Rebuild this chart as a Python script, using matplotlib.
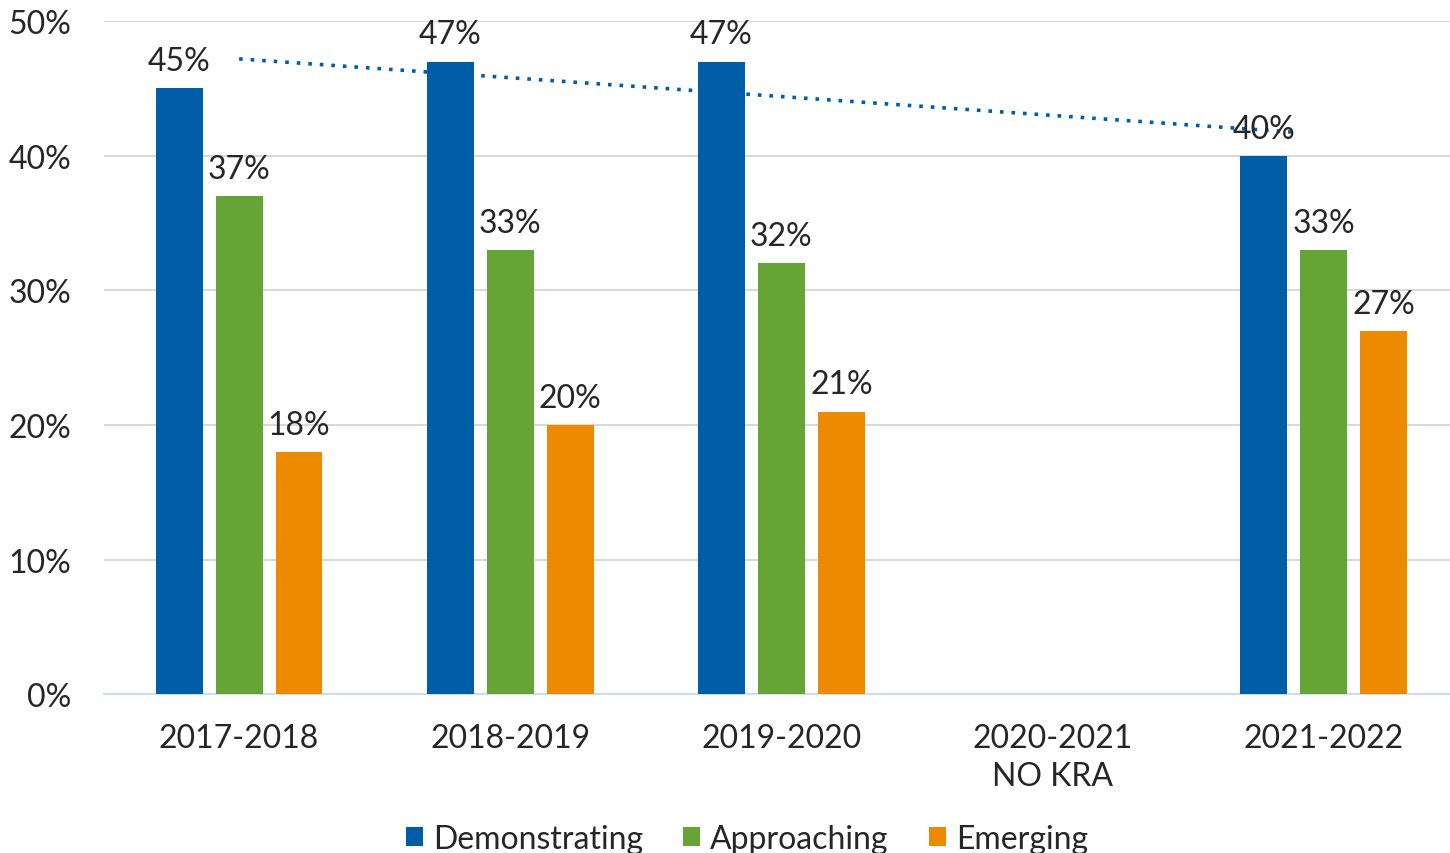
import numpy as np
import matplotlib
matplotlib.use("Agg")
import matplotlib.pyplot as plt
from matplotlib.patches import Patch

plt.rcParams['font.family'] = ['Lato', 'DejaVu Sans']

years = ["2017-2018", "2018-2019", "2019-2020", "2020-2021\nNO KRA", "2021-2022"]
demonstrating = [45, 47, 47, None, 40]
approaching = [37, 33, 32, None, 33]
emerging = [18, 20, 21, None, 27]

series = [("Demonstrating", demonstrating, "#005EA8"),
          ("Approaching", approaching, "#67A436"),
          ("Emerging", emerging, "#EE8A00")]

fig = plt.figure(figsize=(14.5, 8.54), dpi=100)
ax = fig.add_axes([0.0714, 0.186, 0.935, 0.788])

width = 0.173
step = 0.221
x = np.arange(len(years))
for i, (name, vals, color) in enumerate(series):
    for xi, v in zip(x, vals):
        if v is None:
            continue
        pos = xi + (i - 1) * step
        ax.bar(pos, v, width=width, color=color, zorder=3)
        ax.text(pos, v + 0.9, f"{v}%", ha="center", va="bottom",
                fontsize=23, color="#262626", zorder=5)

# linear trendline of Demonstrating (blank year skipped)
tx = np.array([i + 1 for i, v in enumerate(demonstrating) if v is not None])
ty = np.array([v for v in demonstrating if v is not None])
slope, icpt = np.polyfit(tx, ty, 1)
lx = np.array([1, 4.9])
ax.plot(lx - 1, slope * lx + icpt, linestyle=(0, (1, 2.2)), color="#005EA8",
        linewidth=2.6, zorder=4)

ax.set_ylim(0, 50)
ax.set_xlim(-0.5, 4.5)
ax.set_yticks(range(0, 51, 10))
ax.set_yticklabels([f"{t}%" for t in range(0, 51, 10)])
ax.set_xticks(x)
ax.set_xticklabels(years, linespacing=1.3)
ax.tick_params(axis="both", length=0, labelsize=23, colors="#262626")
ax.tick_params(axis="y", pad=23)
ax.tick_params(axis="x", pad=21)
ax.grid(axis="y", color="#D9D9D9", linewidth=1.5, zorder=0)
for s in ["top", "right", "left"]:
    ax.spines[s].set_visible(False)
ax.spines["bottom"].set_color("#C9E0F4")
ax.spines["bottom"].set_linewidth(1.5)

handles = [Patch(facecolor=c, label=n) for n, _, c in series]
fig.legend(handles=handles, loc="lower center", ncol=3, frameon=False,
           fontsize=23, bbox_to_anchor=(0.515, -0.035), handlelength=0.55,
           handleheight=0.55, handletextpad=0.3, columnspacing=1.25,
           labelcolor="#262626")

fig.savefig("out.png", dpi=100)
